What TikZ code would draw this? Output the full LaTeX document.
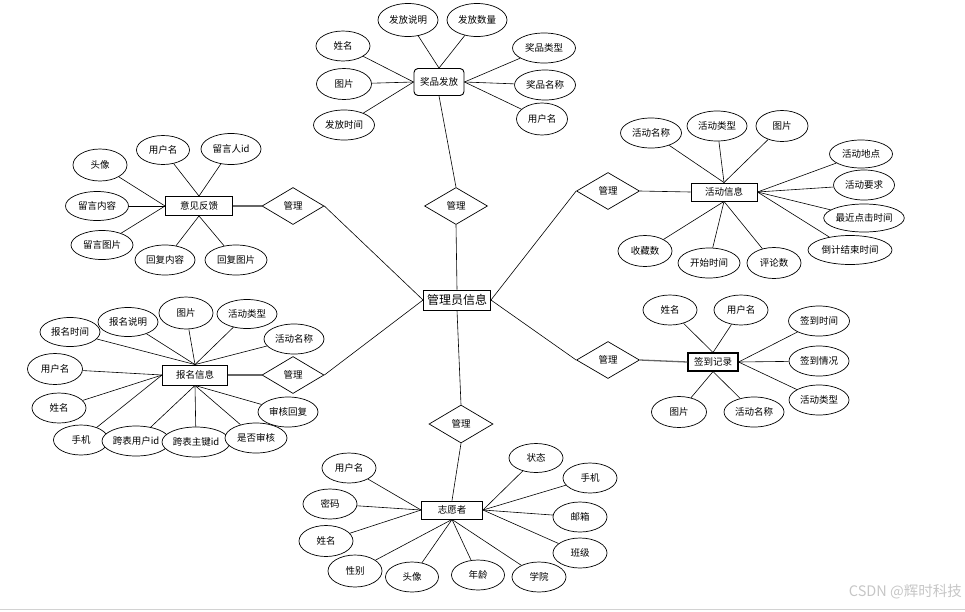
\documentclass[tikz,border=0pt]{standalone}
\usepackage{fontspec}
\setmainfont{Noto Sans CJK SC}
\usetikzlibrary{shapes.geometric}
\begin{document}
\begin{tikzpicture}[x=1pt,y=-1pt,
  attr/.style={ellipse,draw,fill=white,line width=0.7pt,inner sep=0pt,minimum width=54pt,minimum height=30pt,font=\fontsize{9.5}{11}\selectfont},
  ent/.style={rectangle,draw,fill=white,line width=0.9pt,inner sep=0pt,font=\fontsize{9.5}{11}\selectfont},
  rel/.style={diamond,draw,fill=white,line width=0.7pt,inner sep=0pt,minimum width=63pt,minimum height=37pt,font=\fontsize{9.5}{11}\selectfont},
  lk/.style={line width=0.6pt},
  thk/.style={line width=1.3pt,black!60}]
\useasboundingbox (0,0) rectangle (965,611);

% ---------- central entity and relationships ----------
\node[ent,minimum width=67pt,minimum height=20pt,font=\fontsize{12}{14}\selectfont] (adm) at (457,300) {管理员信息};
\node[rel] (r1) at (456,206) {管理};
\node[rel,minimum width=62pt] (r2) at (293,206) {管理};
\node[rel] (r3) at (608,191) {管理};
\node[rel,minimum width=62pt] (r4) at (293,375) {管理};
\node[rel] (r5) at (608,360) {管理};
\node[rel,minimum width=64pt,minimum height=38pt] (r6) at (461,424) {管理};

% ---------- 奖品发放 ----------
\node[ent,rounded corners=4pt,minimum width=50pt,minimum height=27pt] (jp) at (439,82) {奖品发放};
\node[attr,minimum width=60pt,minimum height=33pt] (jp1) at (408,20) {发放说明};
\node[attr,minimum width=60pt,minimum height=33pt] (jp2) at (477,20) {发放数量};
\node[attr] (jp3) at (343,46) {姓名};
\node[attr,minimum width=55pt,minimum height=31pt] (jp4) at (344,84) {图片};
\node[attr,minimum width=61pt] (jp5) at (344,125) {发放时间};
\node[attr,minimum width=63pt] (jp6) at (544,48) {奖品类型};
\node[attr,minimum width=61pt] (jp7) at (545,85) {奖品名称};
\node[attr,minimum width=51pt,minimum height=32pt] (jp8) at (542,119) {用户名};

% ---------- 意见反馈 ----------
\node[ent,minimum width=67pt,minimum height=19pt] (yj) at (199,206) {意见反馈};
\node[attr,minimum width=53pt,minimum height=29pt] (yj1) at (163,150) {用户名};
\node[attr,minimum width=60pt,minimum height=31pt] (yj2) at (231,149) {留言人id};
\node[attr,minimum height=32pt] (yj3) at (100,165) {头像};
\node[attr,minimum width=63pt,minimum height=29pt] (yj4) at (97,206) {留言内容};
\node[attr,minimum width=62pt,minimum height=29pt] (yj5) at (102,245) {留言图片};
\node[attr,minimum width=60pt] (yj6) at (165,260) {回复内容};
\node[attr,minimum width=62pt] (yj7) at (236,260) {回复图片};

% ---------- 活动信息 ----------
\node[ent,minimum width=66pt,minimum height=18pt] (hd) at (724,192) {活动信息};
\node[attr,minimum width=61pt] (hd1) at (651,133) {活动名称};
\node[attr,minimum width=60pt] (hd2) at (717,126) {活动类型};
\node[attr,minimum width=52pt,minimum height=31pt] (hd3) at (782,126) {图片};
\node[attr,minimum width=63pt,minimum height=28pt] (hd4) at (861,154) {活动地点};
\node[attr,minimum width=61pt] (hd5) at (864,185) {活动要求};
\node[attr,minimum width=79pt,minimum height=28pt] (hd6) at (864,218) {最近点击时间};
\node[attr,minimum width=84pt,minimum height=29pt] (hd7) at (850,250) {倒计结束时间};
\node[attr,minimum height=31pt] (hd8) at (645,251) {收藏数};
\node[attr,minimum width=62pt] (hd9) at (709,263) {开始时间};
\node[attr,minimum height=31pt] (hd10) at (774,263) {评论数};

% ---------- 报名信息 ----------
\node[ent,minimum width=65pt,minimum height=20pt] (bm) at (195,375) {报名信息};
\node[attr,minimum width=60pt,minimum height=29pt] (bm1) at (70,332) {报名时间};
\node[attr,minimum width=60pt,minimum height=29pt] (bm2) at (128,322) {报名说明};
\node[attr,minimum height=32pt] (bm3) at (186,313) {图片};
\node[attr,minimum width=60pt,minimum height=29pt] (bm4) at (247,314) {活动类型};
\node[attr,minimum width=60pt] (bm5) at (294,339) {活动名称};
\node[attr,minimum width=55pt,minimum height=31pt] (bm6) at (55,369) {用户名};
\node[attr] (bm7) at (59,408) {姓名};
\node[attr,minimum width=55pt] (bm8) at (81,440) {手机};
\node[attr,minimum width=68pt] (bm9) at (136,441) {跨表用户id};
\node[attr,minimum width=68pt] (bm10) at (196,442) {跨表主键id};
\node[attr,minimum width=62pt] (bm11) at (256,438) {是否审核};
\node[attr,minimum width=60pt] (bm12) at (288,412) {审核回复};

% ---------- 签到记录 ----------
\node[ent,line width=1.1pt,minimum width=50pt,minimum height=18pt] (qd) at (713,362) {签到记录};
\node[attr] (qd1) at (670,310) {姓名};
\node[attr] (qd2) at (741,310) {用户名};
\node[attr,minimum width=61pt] (qd3) at (819,321) {签到时间};
\node[attr,minimum width=60pt] (qd4) at (819,361) {签到情况};
\node[attr,minimum width=60pt] (qd5) at (819,400) {活动类型};
\node[attr,minimum width=55pt,minimum height=31pt] (qd6) at (679,412) {图片};
\node[attr,minimum width=60pt] (qd7) at (754,412) {活动名称};

% ---------- 志愿者 ----------
\node[ent,minimum width=61pt,minimum height=18pt] (zy) at (452,510) {志愿者};
\node[attr] (zy1) at (349,468) {用户名};
\node[attr] (zy2) at (330,504) {密码};
\node[attr,minimum height=31pt] (zy3) at (326,541) {姓名};
\node[attr,minimum height=32pt] (zy4) at (355,571) {性别};
\node[attr,minimum width=53pt] (zy5) at (412,577) {头像};
\node[attr,minimum width=53pt] (zy6) at (478,575) {年龄};
\node[attr] (zy7) at (539,577) {学院};
\node[attr] (zy8) at (580,553) {班级};
\node[attr] (zy9) at (580,517) {邮箱};
\node[attr] (zy10) at (590,478) {手机};
\node[attr,minimum height=29pt] (zy11) at (536,458) {状态};

% ---------- connectors ----------
\begin{scope}[lk]
\draw (jp.south) -- (r1.north);
\draw (r1.south) -- (adm.north);
\draw (r2.east) -- (adm.west);
\draw (r4.east) -- (adm.west);
\draw (adm.east) -- (r3.west);
\draw (adm.east) -- (r5.west);
\draw (adm.south) -- (r6.north);
\draw (r6.south) -- (zy.north);

\foreach \n in {jp1,jp2} \draw (jp.north) -- (\n);
\foreach \n in {jp3,jp4,jp5} \draw (jp.west) -- (\n);
\foreach \n in {jp6,jp7,jp8} \draw (jp.east) -- (\n);

\foreach \n in {yj1,yj2} \draw (yj.north) -- (\n);
\foreach \n in {yj3,yj4,yj5} \draw (yj.west) -- (\n);
\foreach \n in {yj6,yj7} \draw (yj.south) -- (\n);

\draw (r3.east) -- (hd.west);
\foreach \n in {hd1,hd2,hd3} \draw (hd.north) -- (\n);
\foreach \n in {hd4,hd5,hd6,hd7} \draw (hd.east) -- (\n);
\foreach \n in {hd8,hd9,hd10} \draw (hd.south) -- (\n);

\foreach \n in {bm1,bm2,bm3,bm4,bm5} \draw (bm.north) -- (\n);
\foreach \n in {bm6,bm7,bm8} \draw (bm.west) -- (\n);
\foreach \n in {bm9,bm10,bm11,bm12} \draw (bm.south) -- (\n);

\foreach \n in {qd1,qd2} \draw (qd.north) -- (\n);
\foreach \n in {qd3,qd4,qd5} \draw (qd.east) -- (\n);
\foreach \n in {qd6,qd7} \draw (qd.south) -- (\n);

\foreach \n in {zy1,zy2,zy3} \draw (zy.west) -- (\n);
\foreach \n in {zy4,zy5,zy6,zy7} \draw (zy.south) -- (\n);
\foreach \n in {zy8,zy9,zy10,zy11} \draw (zy.east) -- (\n);
\end{scope}

\draw[thk] (yj.east) -- (r2.west);
\draw[thk] (bm.east) -- (r4.west);
\draw[thk] (r5.east) -- (qd.west);

% ---------- watermark and bottom rule ----------
\node[text=gray!45,font=\fontsize{14.5}{16}\selectfont,anchor=east,inner sep=0pt] (wm) at (962,592) {CSDN @辉时科技};
\coordinate (bl) at (0,609);
\coordinate (br) at (965,609);
\draw[gray!35,line width=1pt] (bl) -- (br);
\end{tikzpicture}
\end{document}
